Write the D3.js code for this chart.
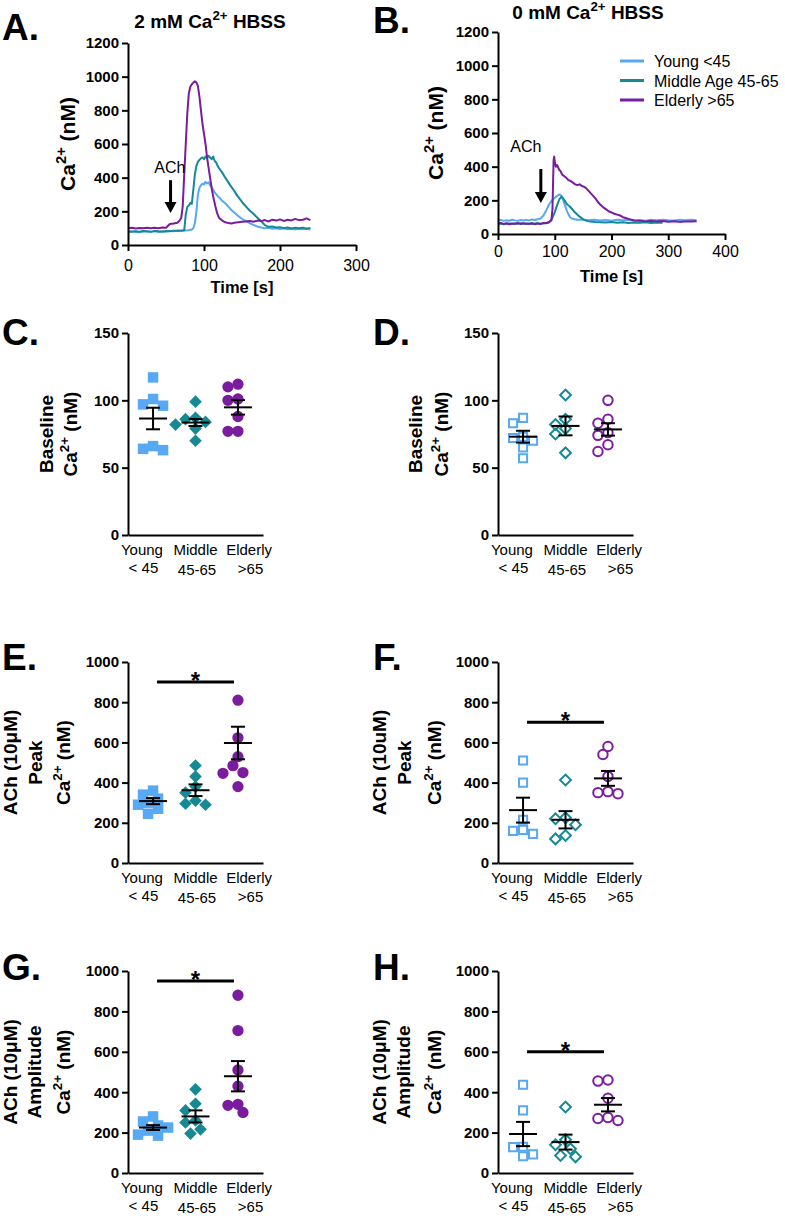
<!DOCTYPE html>
<html>
<head>
<meta charset="utf-8">
<script src="https://cdn.jsdelivr.net/npm/d3@7"></script>
<style>
  body { margin: 0; background: #fff; }
  svg { display: block; font-family: "Liberation Sans", Arial, sans-serif; }
</style>
</head>
<body>
<div id="app"></div>
<script>
// ---- data ----
const groups = ["Young", "Middle", "Elderly"];
const groupAges = ["< 45", "45-65", ">65"];
const legendNames = ["Young <45", "Middle Age 45-65", "Elderly >65"];
const colors = ["#56a9f2", "#168a94", "#7b1b9e"];

const traceTicksY = [0, 200, 400, 600, 800, 1000, 1200];
const ticksA = [0, 100, 200, 300];
const ticksB = [0, 100, 200, 300, 400];

// A: 2 mM Ca2+ HBSS, [time s, Ca2+ nM]
const traceA_young = [[0,78],[5,82],[10,79],[15,76],[20,80],[25,83],[30,79],[35,81],[40,77],[45,82],[50,80],[55,84],[60,81],[65,85],[70,83],[75,86],[80,88],[84,92],[86,100],[88,130],[90,200],[92,300],[94,340],[96,355],[98,365],[100,360],[102,375],[104,365],[106,372],[108,355],[110,345],[112,328],[114,312],[116,302],[118,290],[120,282],[124,262],[128,248],[132,228],[136,208],[140,192],[144,176],[148,162],[152,150],[156,140],[160,130],[165,120],[170,110],[175,104],[180,100],[185,102],[190,97],[195,100],[200,95],[205,99],[210,94],[215,97],[220,92],[225,96],[230,93],[235,98],[240,92]];
const traceA_middle = [[0,80],[5,78],[10,82],[15,79],[20,83],[25,80],[30,78],[35,84],[40,81],[45,79],[50,83],[55,82],[60,85],[65,84],[70,86],[74,88],[76,180],[78,225],[80,235],[82,250],[84,245],[86,330],[88,420],[90,470],[92,495],[94,505],[96,515],[98,520],[100,510],[102,525],[104,515],[106,530],[108,520],[110,510],[112,525],[114,500],[116,490],[118,470],[120,455],[124,430],[128,400],[132,372],[136,345],[140,320],[144,292],[148,268],[152,245],[156,225],[160,205],[164,190],[168,172],[172,155],[176,138],[180,118],[185,108],[190,110],[195,104],[200,106],[205,100],[210,104],[215,98],[220,102],[225,99],[230,103],[235,97],[240,101]];
const traceA_elderly = [[0,100],[5,102],[10,98],[15,101],[20,99],[25,103],[30,100],[35,102],[40,99],[45,104],[50,103],[55,125],[60,128],[65,132],[68,145],[70,160],[72,230],[74,420],[76,600],[78,780],[80,900],[82,940],[84,955],[86,965],[88,972],[90,965],[92,945],[94,880],[96,800],[98,720],[100,660],[102,600],[104,520],[106,460],[108,400],[110,340],[112,290],[114,250],[116,210],[118,180],[120,160],[124,145],[128,135],[132,130],[136,128],[140,132],[145,135],[150,138],[155,140],[160,142],[165,138],[170,145],[175,142],[180,148],[185,140],[190,150],[195,145],[200,152],[205,143],[210,150],[215,146],[220,155],[225,148],[230,150],[235,158],[240,148]];

// B: 0 mM Ca2+ HBSS
const traceB_young = [[0,80],[5,84],[10,78],[15,82],[20,79],[25,85],[30,81],[35,78],[40,83],[45,80],[50,84],[55,81],[60,86],[65,83],[70,88],[75,92],[80,110],[85,140],[90,175],[95,200],[100,215],[105,228],[108,235],[110,232],[112,225],[115,200],[118,170],[121,140],[124,118],[127,100],[130,92],[135,88],[140,85],[150,84],[160,82],[170,85],[180,80],[190,83],[200,79],[210,84],[220,81],[230,85],[240,80],[250,83],[260,79],[270,84],[280,81],[290,85],[300,82],[310,80],[320,84],[330,81],[340,85],[350,82]];
const traceB_middle = [[0,60],[5,62],[10,58],[15,61],[20,63],[25,59],[30,62],[35,60],[40,64],[45,61],[50,59],[55,63],[60,60],[65,62],[70,64],[75,61],[80,63],[85,66],[90,70],[95,90],[100,130],[104,170],[108,205],[112,222],[114,215],[118,195],[122,175],[126,165],[130,150],[135,130],[140,115],[145,100],[150,88],[155,80],[160,75],[170,72],[180,70],[190,68],[200,71],[210,67],[220,70],[230,66],[240,69],[250,67],[260,70],[270,66],[280,68],[290,67]];
const traceB_elderly = [[0,62],[5,65],[10,60],[15,64],[20,58],[25,63],[30,61],[35,66],[40,59],[45,64],[50,62],[55,60],[60,65],[65,58],[70,63],[75,60],[80,66],[85,64],[90,70],[94,80],[96,150],[97,300],[98,440],[99,460],[100,430],[102,400],[104,410],[106,395],[108,380],[110,375],[112,360],[114,350],[116,345],[118,340],[120,335],[124,320],[128,315],[132,305],[136,295],[140,290],[144,295],[148,285],[152,280],[156,270],[160,255],[164,240],[168,225],[172,210],[176,190],[180,175],[185,160],[190,148],[195,135],[200,128],[205,120],[210,115],[215,110],[220,100],[225,95],[230,90],[235,85],[240,80],[250,78],[260,75],[270,78],[280,74],[290,77],[300,73],[310,76],[320,72],[330,75],[340,74],[350,76]];

// C: baseline, 2 mM
const base2Young = [117, 101, 97, 96, 66, 64, 63];
const base2Middle = [99, 87, 86, 84, 82, 79, 70];
const base2Elderly = [112, 110, 101, 100, 88, 77, 77];
const base2Mean = [86.5, 83.5, 94.8];
const base2Sem = [8, 2.6, 5.4];
// D: baseline, 0 mM
const base0Young = [87, 83, 73, 72, 70, 65, 57];
const base0Middle = [104, 86, 82, 79, 75, 61];
const base0Elderly = [100, 86, 83, 76, 74, 67, 62];
const base0Mean = [73, 81, 78.4];
const base0Sem = [4.4, 7, 4.6];
// E: peak, 2 mM
const peak2Young = [360, 340, 320, 300, 290, 270, 245];
const peak2Middle = [485, 430, 380, 350, 310, 295, 290];
const peak2Elderly = [810, 623, 529, 484, 450, 446, 380];
const peak2Mean = [308, 362, 597];
const peak2Sem = [15, 29, 81];
// F: peak, 0 mM
const peak0Young = [510, 400, 215, 165, 160, 145];
const peak0Middle = [413, 225, 220, 190, 137, 120];
const peak0Elderly = [580, 540, 430, 355, 350, 345];
const peak0Mean = [263, 215, 421];
const peak0Sem = [62, 43, 37];
// G: amplitude, 2 mM
const amp2Young = [280, 255, 235, 225, 210, 190, 185];
const amp2Middle = [414, 343, 310, 260, 250, 216, 195];
const amp2Elderly = [880, 705, 510, 430, 340, 335, 300];
const amp2Mean = [225, 280, 479];
const amp2Sem = [12, 30, 75];
// H: amplitude, 0 mM
const amp0Young = [437, 310, 130, 128, 92, 83];
const amp0Middle = [327, 165, 140, 120, 87, 80];
const amp0Elderly = [460, 455, 370, 275, 270, 260];
const amp0Mean = [193, 153, 338];
const amp0Sem = [60, 37, 33];

// ---- drawing ----
const svg = d3.select("#app").append("svg")
  .attr("width", 785)
  .attr("height", 1216);

// "Ca" + superscript "2+"
function addCa(text, fs, before, after) {
  text.append("tspan").text(before + "Ca");
  text.append("tspan").attr("dy", -fs * 0.42).attr("font-size", fs * 0.7).text("2+");
  text.append("tspan").attr("dy", fs * 0.42).text(after);
}

function styleAxis(ax, bold, fs) {
  ax.attr("font-family", null).attr("font-size", null);
  ax.select(".domain").attr("stroke", "#000").attr("stroke-width", 2);
  ax.selectAll(".tick line").attr("stroke", "#000").attr("stroke-width", 2);
  ax.selectAll(".tick text")
    .attr("fill", "#000")
    .attr("font-size", fs)
    .attr("font-weight", bold ? "bold" : "normal");
}

function letter(x, y, t) {
  svg.append("text").attr("x", x).attr("y", y)
    .attr("font-size", 37).attr("font-weight", "bold").text(t);
}

function yLabel(cy, lines, xs, fs) {
  const g = svg.append("g").attr("transform", `translate(0,${cy}) rotate(-90)`);
  lines.forEach((l, i) => {
    const t = g.append("text").attr("x", 0).attr("y", xs[i])
      .attr("text-anchor", "middle").attr("font-size", fs).attr("font-weight", "bold");
    if (l === "CA") addCa(t, fs, "", " (nM)");
    else t.text(l);
  });
}

const fmt = d3.format("d");

function tracePanel(o) {
  const g = svg.append("g");
  const x = d3.scaleLinear().domain([0, o.xMax]).range([o.left, o.right]);
  const y = d3.scaleLinear().domain([0, 1200]).range([o.bottom, o.top]);
  const line = d3.line().x(d => x(d[0])).y(d => y(d[1]));

  o.series.forEach((s, i) => {
    g.append("path").attr("d", line(s))
      .attr("fill", "none").attr("stroke", colors[i])
      .attr("stroke-width", 2).attr("stroke-linejoin", "round");
  });

  const yAx = g.append("g").attr("transform", `translate(${o.left},0)`)
    .call(d3.axisLeft(y).tickValues(traceTicksY).tickFormat(fmt).tickSize(6).tickSizeOuter(0).tickPadding(3));
  styleAxis(yAx, true, 15);
  const xAx = g.append("g").attr("transform", `translate(0,${o.bottom})`)
    .call(d3.axisBottom(x).tickValues(o.xTicks).tickFormat(fmt).tickSize(6).tickSizeOuter(0).tickPadding(o.xPad));
  styleAxis(xAx, false, 16);

  // ACh arrow
  const ax = x(o.arrow[0]);
  g.append("line").attr("x1", ax).attr("x2", ax)
    .attr("y1", y(o.arrow[1])).attr("y2", y(o.arrow[2]) - 8)
    .attr("stroke", "#000").attr("stroke-width", 3);
  g.append("path")
    .attr("d", `M${ax - 6},${y(o.arrow[2]) - 11} L${ax + 6},${y(o.arrow[2]) - 11} L${ax},${y(o.arrow[2])} Z`)
    .attr("fill", "#000");
  g.append("text").attr("x", x(o.achLabel[0])).attr("y", y(o.achLabel[1]))
    .attr("text-anchor", "middle").attr("font-size", 16).text("ACh");

  const title = g.append("text").attr("x", o.titleX).attr("y", o.titleY)
    .attr("text-anchor", "middle").attr("font-size", 19).attr("font-weight", "bold");
  addCa(title, 19, o.title + " ", " HBSS");

  g.append("text").attr("x", (o.left + o.right) / 2).attr("y", o.xTitleY)
    .attr("text-anchor", "middle").attr("font-size", 16.5).attr("font-weight", "bold")
    .text("Time [s]");
  yLabel((o.top + o.bottom) / 2, ["CA"], [o.yLabX], 21);
  return g;
}

const gA = tracePanel({
  left: 128, right: 356, top: 43, bottom: 245, xMax: 300, xTicks: ticksA, xPad: 9,
  series: [traceA_young, traceA_middle, traceA_elderly],
  arrow: [56, 385, 190], achLabel: [55, 428],
  title: "2 mM", titleX: 210, titleY: 28, xTitleY: 293, yLabX: 75
});
letter(2, 40, "A.");

const gB = tracePanel({
  left: 498, right: 725, top: 32, bottom: 234, xMax: 400, xTicks: ticksB, xPad: 6,
  series: [traceB_young, traceB_middle, traceB_elderly],
  arrow: [75.5, 386, 184], achLabel: [49, 488],
  title: "0 mM", titleX: 588, titleY: 19, xTitleY: 282, yLabX: 443
});
letter(373, 33, "B.");

// legend in B
const leg = gB.append("g");
legendNames.forEach((n, i) => {
  const ly = 61 + i * 19.5;
  leg.append("line").attr("x1", 620).attr("x2", 644).attr("y1", ly).attr("y2", ly)
    .attr("stroke", colors[i]).attr("stroke-width", 3);
  leg.append("text").attr("x", 654).attr("y", ly + 6).attr("font-size", 16).text(n);
});

// beeswarm-like placement so markers don't sit on top of each other
function swarm(vals, cx, yS, size) {
  const placed = [];
  vals.forEach(v => {
    const py = yS(v);
    for (let k = 0; k < 30; k++) {
      const px = cx + (k % 2 ? -1 : 1) * Math.ceil(k / 2) * size * 0.5;
      if (placed.every(p => Math.hypot(p.x - px, p.y - py) >= size * 0.92)) {
        placed.push({ x: px, y: py });
        break;
      }
    }
  });
  return placed;
}

const shapes = [d3.symbolSquare, d3.symbolSquare, d3.symbolCircle];

function scatterPanel(o) {
  const g = svg.append("g");
  const y = d3.scaleLinear().domain([0, o.max]).range([o.bottom, o.top]);
  const markX = d3.scalePoint().domain(groups).range([o.left, o.left + 135]).padding(0.59);
  const labX = d3.scalePoint().domain(groups).range([o.left, o.left + 135]).padding(0.26);

  // points
  o.values.forEach((vals, i) => {
    const pts = swarm(vals, markX(groups[i]), y, 10);
    const area = i === 0 ? (o.open ? 66 : 110) : i === 1 ? (o.open ? 58 : 80) : (o.open ? 70 : 100);
    const sym = d3.symbol().type(shapes[i]).size(area);
    g.selectAll(null).data(pts).enter().append("path")
      .attr("d", sym)
      .attr("transform", d => `translate(${d.x},${d.y})` + (i === 1 ? " rotate(45)" : ""))
      .attr("fill", o.open ? "none" : colors[i])
      .attr("stroke", o.open ? colors[i] : "none")
      .attr("stroke-width", 2);
  });

  // mean +/- SEM
  o.means.forEach((m, i) => {
    const cx = markX(groups[i]);
    const s = o.sems[i];
    const e = g.append("g").attr("stroke", "#000").attr("stroke-width", 2);
    e.append("line").attr("x1", cx - 14).attr("x2", cx + 14).attr("y1", y(m)).attr("y2", y(m));
    e.append("line").attr("x1", cx).attr("x2", cx).attr("y1", y(m - s)).attr("y2", y(m + s));
    e.append("line").attr("x1", cx - 7).attr("x2", cx + 7).attr("y1", y(m - s)).attr("y2", y(m - s));
    e.append("line").attr("x1", cx - 7).attr("x2", cx + 7).attr("y1", y(m + s)).attr("y2", y(m + s));
  });

  const yAx = g.append("g").attr("transform", `translate(${o.left},0)`)
    .call(d3.axisLeft(y).tickValues(d3.range(0, o.max + 1, o.step)).tickFormat(fmt)
      .tickSize(6).tickSizeOuter(0).tickPadding(3));
  styleAxis(yAx, true, 15);
  const xAx = g.append("g").attr("transform", `translate(0,${o.bottom})`)
    .call(d3.axisBottom(labX).tickSize(0).tickSizeOuter(0).tickFormat(""));
  styleAxis(xAx, false, 15);

  const second = [38, 40, 39];
  groups.forEach((gr, i) => {
    g.append("text").attr("x", labX(gr)).attr("y", o.bottom + 20)
      .attr("text-anchor", "middle").attr("font-size", 15).text(gr);
    g.append("text").attr("x", labX(gr) + 1.5).attr("y", o.bottom + second[i])
      .attr("text-anchor", "middle").attr("font-size", 15).text(groupAges[i]);
  });

  if (o.sig) {
    const x1 = markX(groups[0]) + 4, x2 = markX(groups[2]) - 4;
    g.append("line").attr("x1", x1).attr("x2", x2).attr("y1", y(o.sig)).attr("y2", y(o.sig))
      .attr("stroke", "#000").attr("stroke-width", 3);
    g.append("text").attr("x", (x1 + x2) / 2).attr("y", y(o.sig) + 7)
      .attr("text-anchor", "middle").attr("font-size", 24).attr("font-weight", "bold").text("*");
  }

  yLabel((o.top + o.bottom) / 2, o.label, o.labelX, 19);
  letter(o.letterX, o.letterY, o.letter);
}

scatterPanel({
  left: 128, top: 333, bottom: 535, max: 150, step: 50, open: false,
  values: [base2Young, base2Middle, base2Elderly], means: base2Mean, sems: base2Sem,
  label: ["Baseline", "CA"], labelX: [53, 77], letter: "C.", letterX: 2, letterY: 345
});
scatterPanel({
  left: 498, top: 333, bottom: 535, max: 150, step: 50, open: true,
  values: [base0Young, base0Middle, base0Elderly], means: base0Mean, sems: base0Sem,
  label: ["Baseline", "CA"], labelX: [422, 448], letter: "D.", letterX: 373, letterY: 345
});
scatterPanel({
  left: 128, top: 662, bottom: 863, max: 1000, step: 200, open: false,
  values: [peak2Young, peak2Middle, peak2Elderly], means: peak2Mean, sems: peak2Sem, sig: 900,
  label: ["ACh (10\u03bcM)", "Peak", "CA"], labelX: [17, 42, 70], letter: "E.", letterX: 2, letterY: 670
});
scatterPanel({
  left: 498, top: 662, bottom: 863, max: 1000, step: 200, open: true,
  values: [peak0Young, peak0Middle, peak0Elderly], means: peak0Mean, sems: peak0Sem, sig: 700,
  label: ["ACh (10uM)", "Peak", "CA"], labelX: [386, 411, 441], letter: "F.", letterX: 373, letterY: 670
});
scatterPanel({
  left: 128, top: 971, bottom: 1173, max: 1000, step: 200, open: false,
  values: [amp2Young, amp2Middle, amp2Elderly], means: amp2Mean, sems: amp2Sem, sig: 950,
  label: ["ACh (10\u03bcM)", "Amplitude", "CA"], labelX: [17, 41, 70], letter: "G.", letterX: 2, letterY: 980
});
scatterPanel({
  left: 498, top: 971, bottom: 1173, max: 1000, step: 200, open: true,
  values: [amp0Young, amp0Middle, amp0Elderly], means: amp0Mean, sems: amp0Sem, sig: 600,
  label: ["ACh (10\u03bcM)", "Amplitude", "CA"], labelX: [386, 410, 441], letter: "H.", letterX: 373, letterY: 980
});
</script>
</body>
</html>
